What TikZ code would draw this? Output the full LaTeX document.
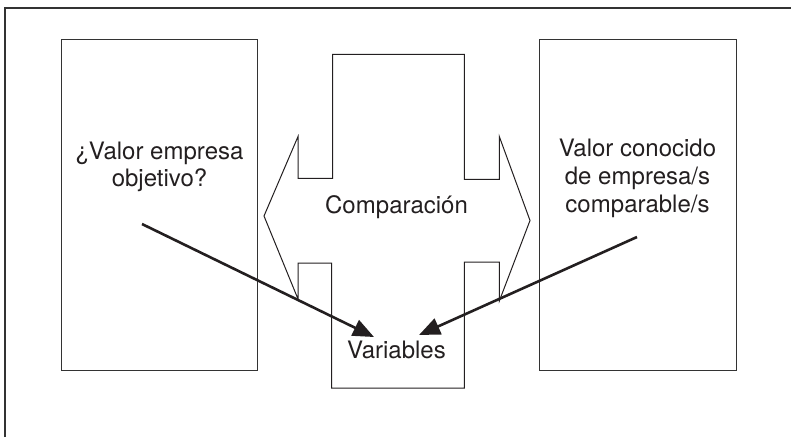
\documentclass[tikz,border=0pt]{standalone}
\usepackage{fontspec}
\setmainfont{TeX Gyre Heros}
\usetikzlibrary{arrows.meta}
\definecolor{linegray}{HTML}{333333}
\definecolor{inkdark}{HTML}{231F20}
\tikzset{
  x=1pt, y=-1pt,
  framebox/.style={draw=linegray, line width=1pt, inner sep=0pt},
  labeltext/.style={text=inkdark, font=\fontsize{24}{28}\selectfont, align=center, inner sep=0pt, anchor=base},
  bigarrow/.style={draw=inkdark, line width=2.6pt, -{Triangle[length=21pt,width=17pt]}, shorten >=0pt},
  outline/.style={draw=inkdark, line width=1pt, line join=miter}
}
\begin{document}
\begin{tikzpicture}
\useasboundingbox (0,0) rectangle (791,437);
% outer frame, open to the right and bottom
\draw[linegray, line width=2pt] (4.5,437) -- (4.5,7.5) -- (791,7.5);
% side boxes
\node[framebox, minimum width=196pt, minimum height=331pt] (target) at (159,204.5) {};
\node[framebox, minimum width=197pt, minimum height=331pt] (peers) at (637.5,204.5) {};
% central double-headed block shape
\draw[outline] (332.7,54.3) -- (464.3,54.3) -- (464.3,179.3) -- (499.3,179.3) -- (499.3,136.5)
  -- (530,220.5) -- (499.3,301) -- (499.3,262) -- (464.3,262) -- (464.3,388)
  -- (331.5,388) -- (331.5,263) -- (298,263) -- (298,299) -- (264,216)
  -- (298,136.5) -- (298,178.3) -- (332.7,178.3) -- cycle;
% texts
\node[labeltext] (tq1) at (159.5,159) {¿Valor empresa};
\node[labeltext] (tq2) at (159.5,186) {objetivo?};
\node[labeltext] (pk1) at (637.5,156) {Valor conocido};
\node[labeltext] (pk2) at (637.5,184) {de empresa/s};
\node[labeltext] (pk3) at (637.5,212) {comparable/s};
\node[labeltext] (cmp) at (396.5,213) {Comparación};
\node[labeltext] (var) at (396.5,358) {Variables};
% arrows towards the variables
\coordinate (tqstart) at (142,224);
\coordinate (tqend) at (374,337);
\coordinate (pkstart) at (637,237);
\coordinate (pkend) at (419,335);
\draw[bigarrow] (tqstart) -- (tqend);
\draw[bigarrow] (pkstart) -- (pkend);
\end{tikzpicture}
\end{document}
